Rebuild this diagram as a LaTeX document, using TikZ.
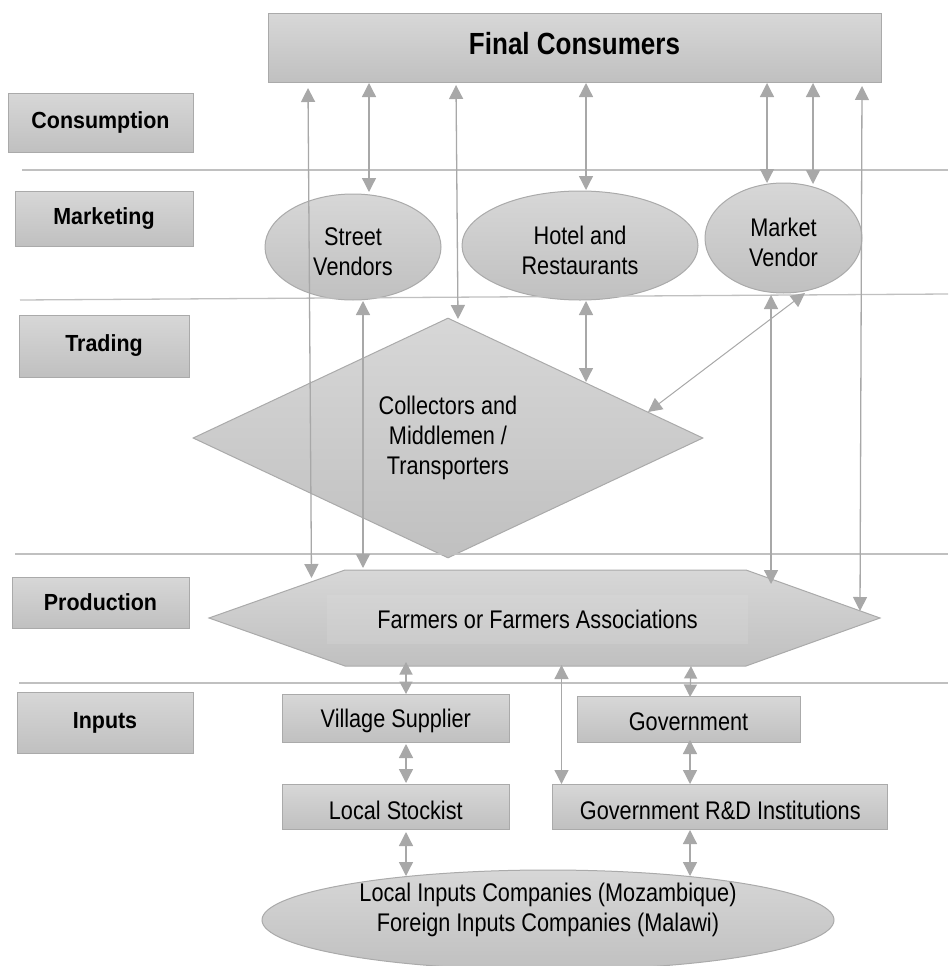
\documentclass[tikz,border=0pt]{standalone}
\usepackage{fontspec}
\setmainfont{Liberation Sans}[FakeStretch=0.85]
\newfontfamily\labfont{Liberation Sans}[FakeStretch=0.92]
\usetikzlibrary{arrows.meta,shapes.geometric}
\definecolor{arrowgray}{RGB}{168,168,168}
\definecolor{linegray}{RGB}{192,192,192}
\definecolor{boxtop}{RGB}{215,215,215}
\definecolor{boxbot}{RGB}{192,192,192}
\definecolor{boxedge}{RGB}{170,170,170}
\definecolor{innertop}{RGB}{212,212,212}
\definecolor{innerbot}{RGB}{203,203,203}
\newcommand{\upstrut}{\rule{0pt}{28pt}}
\begin{document}
\begin{tikzpicture}[x=1pt,y=-1pt,
  shaded/.style={draw=boxedge, line width=1pt, top color=boxtop, bottom color=boxbot},
  txt/.style={font=\fontsize{25.5}{30}\selectfont, text=black},
  lab/.style={shaded, rectangle, inner sep=0pt, font=\labfont\bfseries\fontsize{23.3}{28}\selectfont},
  inbox/.style={shaded, rectangle, inner sep=0pt, txt},
  oval/.style={shaded, ellipse, inner sep=0pt, txt, align=center},
  sep/.style={draw=linegray, line width=1.3pt},
  arr/.style={draw=arrowgray, line width=1.3pt, >={Triangle[length=14pt,width=14pt]}, <->},
  sarr/.style={draw=arrowgray, line width=1.3pt, >={Triangle[length=12.5pt,width=13pt]}, <->}
]
\useasboundingbox (0,0) rectangle (948,966);

% ---- stage labels ----
\node[lab, minimum width=185pt, minimum height=59pt] (consumption) at (100.5,122.5) {Consumption};
\node[lab, minimum width=178pt, minimum height=55pt] (marketing) at (104,218.5) {Marketing};
\node[lab, minimum width=170pt, minimum height=62pt] (trading) at (104,346) {Trading};
\node[lab, minimum width=177pt, minimum height=51pt] (production) at (100.5,602.5) {Production};
\node[lab, minimum width=176pt, minimum height=61pt] (inputs) at (105,722.5) {Inputs};

% ---- final consumers ----
\node[shaded, rectangle, inner sep=0pt, minimum width=613pt, minimum height=68pt,
      font=\bfseries\fontsize{30.6}{36}\selectfont, text depth=9pt] (final) at (574.5,48) {Final Consumers};

% ---- marketing ovals ----
\node[oval, minimum width=176pt, minimum height=106pt] (street) at (353,247) {\upstrut Street\\Vendors};
\node[oval, minimum width=236pt, minimum height=109pt] (hotel) at (580,245.5) {\upstrut Hotel and\\Restaurants};
\node[oval, minimum width=157pt, minimum height=110pt] (market) at (783.5,238) {\upstrut Market\\Vendor};

% ---- trading diamond ----
\node[shaded, diamond, inner sep=0pt, minimum width=510pt, minimum height=240pt, txt, align=center]
  (collect) at (448,438) {Collectors and\\Middlemen /\\Transporters};

% ---- production hexagon ----
\path[shaded] (209,618) -- (345,570) -- (746,570) -- (880,618) -- (746,666) -- (345,666) -- cycle;
\node[rectangle, inner sep=0pt, minimum width=421pt, minimum height=48pt,
      top color=innertop, bottom color=innerbot, txt] (farmers) at (537.5,619) {Farmers or Farmers Associations};

% ---- inputs ----
\node[inbox, minimum width=226.4pt, minimum height=48.3pt] (village) at (395.8,718.2) {\rule{0pt}{23pt}Village Supplier};
\node[inbox, minimum width=223pt, minimum height=45.6pt] (gov) at (688.5,719.5) {\rule{0pt}{23pt}Government};
\node[inbox, minimum width=226.4pt, minimum height=44.7pt] (stockist) at (395.8,806.7) {\rule{0pt}{26pt}Local Stockist};
\node[inbox, minimum width=334.7pt, minimum height=44.7pt] (govrd) at (720.3,806.7) {\rule{0pt}{26pt}Government R\&D Institutions};
\node[shaded, ellipse, inner sep=0pt, minimum width=572pt, minimum height=100pt] (companies) at (548,920) {};
\node[txt, align=center] (companiestext) at (548,910) {Local Inputs Companies (Mozambique)\\Foreign Inputs Companies (Malawi)};

% ---- separator lines ----
\coordinate (l1a) at (22,170);  \coordinate (l1b) at (948,170);
\coordinate (l2a) at (20,300);  \coordinate (l2b) at (948,294);
\coordinate (l3a) at (15,554);  \coordinate (l3b) at (948,554);
\coordinate (l4a) at (19,683);  \coordinate (l4b) at (948,683);
\draw[sep] (l1a) -- (l1b);
\draw[sep] (l2a) -- (l2b);
\draw[sep] (l3a) -- (l3b);
\draw[sep] (l4a) -- (l4b);

% ---- connector end points ----
\coordinate (f1) at (308,88);    \coordinate (p1) at (311.5,578);
\coordinate (f2) at (369,83);    \coordinate (s2) at (369,192);
\coordinate (f3) at (456,85);    \coordinate (c3) at (458,319);
\coordinate (f4) at (586,83);    \coordinate (h4) at (586,190);
\coordinate (f5) at (767,83);    \coordinate (m5) at (767,183);
\coordinate (f6) at (813,83);    \coordinate (m6) at (813,184);
\coordinate (f7) at (862,86);    \coordinate (p7) at (860,611);
\coordinate (m8) at (771,295);   \coordinate (p8) at (771,584);
\coordinate (m9) at (805,293);   \coordinate (c9) at (648,412);
\coordinate (h10) at (586,301);  \coordinate (c10) at (586,382);
\coordinate (s11) at (363,301);  \coordinate (p11) at (363,568);
\coordinate (p12) at (406,662);  \coordinate (v12) at (406,694);
\coordinate (p13) at (561.5,665);\coordinate (r13) at (561.5,784);
\coordinate (p14) at (691,666);  \coordinate (g14) at (690,697);
\coordinate (v15) at (406,744);  \coordinate (l15) at (406,783);
\coordinate (g16) at (690,740);  \coordinate (r16) at (690,784);
\coordinate (l17) at (406,832);  \coordinate (e17) at (406,876);
\coordinate (r18) at (690,830);  \coordinate (e18) at (690,876);

% ---- connectors ----
\draw[arr] (f1) -- (p1);
\draw[arr] (f2) -- (s2);
\draw[arr] (f3) -- (c3);
\draw[arr] (f4) -- (h4);
\draw[arr] (f5) -- (m5);
\draw[arr] (f6) -- (m6);
\draw[arr] (f7) -- (p7);
\draw[arr] (m8) -- (p8);
\draw[arr, line width=1pt] (m9) -- (c9);
\draw[arr] (h10) -- (c10);
\draw[arr] (s11) -- (p11);
\draw[sarr] (p12) -- (v12);
\draw[arr] (p13) -- (r13);
\draw[sarr] (p14) -- (g14);
\draw[arr] (v15) -- (l15);
\draw[arr] (g16) -- (r16);
\draw[arr] (l17) -- (e17);
\draw[arr] (r18) -- (e18);
\end{tikzpicture}
\end{document}
